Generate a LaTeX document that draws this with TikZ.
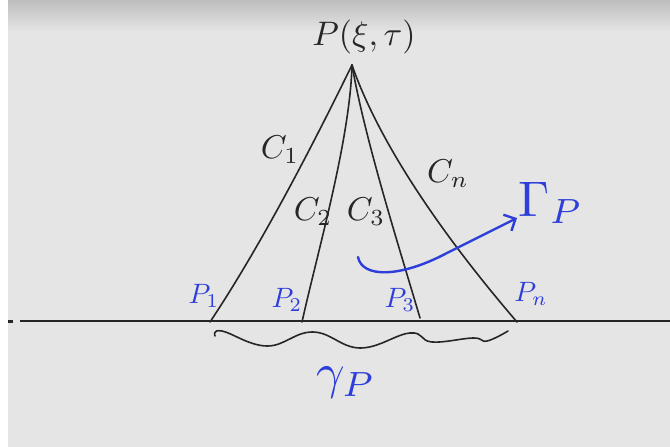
\documentclass[tikz,border=0pt]{standalone}
\usetikzlibrary{arrows.meta}
\definecolor{handblue}{RGB}{45,62,218}
\definecolor{boardgray}{RGB}{229,229,229}
\definecolor{boardtop}{RGB}{190,190,190}
\begin{document}
\begin{tikzpicture}[x=1pt,y=-1pt,
    curve/.style={line width=1.6pt,line cap=round,black!85},
    blk/.style={text=black!85,scale=3.3},
    blu/.style={text=handblue,scale=2.8}]
    \useasboundingbox (0,0) rectangle (670,447);
    % board
    \fill[boardgray] (0,0) rectangle (670,447);
    \shade[top color=boardtop,bottom color=boardgray] (0,0) rectangle (670,32);
    \fill[white] (0,0) rectangle (8,447);

    % points
    \coordinate (apex) at (352,65);
    \coordinate (p1) at (210,322);
    \coordinate (p2) at (302,322);
    \coordinate (p3) at (420,318);
    \coordinate (pn) at (517,322);
    \coordinate (left) at (20,321);
    \coordinate (right) at (670,321);

    % initial line
    \draw[line width=1.6pt,black!85] (left) -- (right);
    \fill[black!85] (8,320) rectangle (13,323);

    % characteristics
    \draw[curve] (apex) .. controls (325,120) and (268,235) .. (p1);
    \draw[curve] (apex) .. controls (350,140) and (318,250) .. (p2);
    \draw[curve] (apex) .. controls (365,140) and (400,250) .. (p3);
    \draw[curve] (apex) .. controls (378,140) and (438,230) .. (pn);

    % labels
    \node[text=black!85,scale=3.4] (top) at (364,37) {$P(\xi,\tau)$};
    \node[blk] (c1) at (280,150) {$C_1$};
    \node[blk] (c2) at (313,212) {$C_2$};
    \node[blk] (c3) at (366,212) {$C_3$};
    \node[blk] (cn) at (448,174) {$C_n$};
    \node[blu] (l1) at (204,296) {$P_1$};
    \node[blu] (l2) at (287,300) {$P_2$};
    \node[blu] (l3) at (400,300) {$P_3$};
    \node[blu] (ln) at (531,294) {$P_n$};

    % wavy segment under the line
    \draw[curve] plot[smooth,tension=0.7] coordinates {(215,336) (222,331) (267,346) (313,332)
        (360,348) (410,333) (432,342) (473,338) (487,341) (508,331)};
    \node[text=handblue,scale=5] (gp) at (346,383) {$\gamma_P$};

    % domain arrow
    \coordinate (gs) at (358,257);
    \coordinate (ge) at (517,218);
    \draw[handblue,line width=2.4pt,line cap=round,-{Straight Barb[length=9pt,width=18pt]}]
        (gs) .. controls (362,278) and (400,278) .. (447,253) -- (ge);
    \node[text=handblue,scale=5] (gam) at (551,203) {$\Gamma_P$};
\end{tikzpicture}
\end{document}
